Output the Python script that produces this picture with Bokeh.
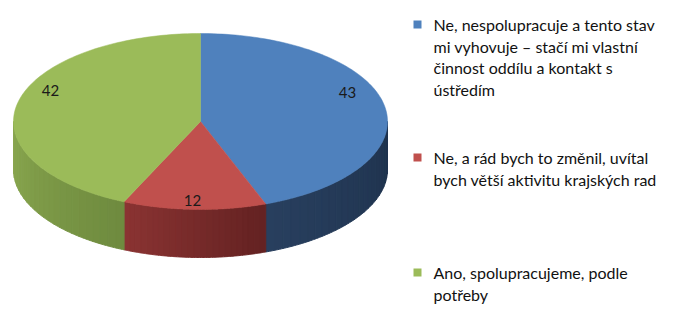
import numpy as np
from bokeh.plotting import figure
from bokeh.models import Range1d
from bokeh.core.properties import value
from bokeh.embed import file_html
from bokeh.resources import INLINE

# ---- data ----
categories = [
    "Ne, nespolupracuje a tento stav mi vyhovuje – stačí mi vlastní činnost oddílu a kontakt s ústředím",
    "Ne, a rád bych to změnil, uvítal bych větší aktivitu krajských rad",
    "Ano, spolupracujeme, podle potřeby",
]
legend_lines = [
    ["Ne, nespolupracuje a tento stav", "mi vyhovuje – stačí mi vlastní", "činnost oddílu a kontakt s", "ústředím"],
    ["Ne, a rád bych to změnil, uvítal", "bych větší aktivitu krajských rad"],
    ["Ano, spolupracujeme, podle", "potřeby"],
]
values = [43, 12, 42]
top_colors = ["#4F81BD", "#C0504D", "#9BBB59"]
side_colors = [("#283f5e", "#1e324d"), ("#8a3332", "#642222"), ("#8aa84f", "#6f8b3f")]

# ---- geometry (screen pixels, y down) ----
W, H = 685, 314
p = figure(width=W, height=H, output_backend="svg", toolbar_location=None,
           x_range=Range1d(0, W), y_range=Range1d(H, 0),
           min_border=0, outline_line_color=None)
p.axis.visible = False
p.grid.visible = False
p.background_fill_color = "white"
p.border_fill_color = "white"

cx, cy, a, b, depth = 200, 121, 187, 88, 48


def pt(theta_deg):
    t = np.radians(theta_deg)
    return cx + a * np.cos(t), cy - b * np.sin(t)


def mix(c1, c2, f):
    c1 = [int(c1[i:i + 2], 16) for i in (1, 3, 5)]
    c2 = [int(c2[i:i + 2], 16) for i in (1, 3, 5)]
    c = [round(c1[i] + (c2[i] - c1[i]) * f) for i in range(3)]
    return "#%02x%02x%02x" % tuple(c)


total = sum(values)
angles = []
start = 90.0
for v in values:
    sweep = v / total * 360.0
    angles.append((start, start - sweep))  # clockwise
    start -= sweep

# sides (front half: theta in [-180, 0])
for (s, e), (c1, c2) in zip(angles, side_colors):
    lo, hi = e, s
    segs = []
    for off in (0, -360, 360):
        l, h = lo + off, hi + off
        l2, h2 = max(l, -180), min(h, 0)
        if h2 > l2:
            segs.append((l2, h2))
    for l2, h2 in segs:
        n = 24
        edges = np.linspace(l2, h2, n + 1)
        xs_all, ys_all, cols = [], [], []
        for i in range(n):
            ts = np.linspace(edges[i], edges[i + 1], 6)
            top = [pt(t) for t in ts]
            xs = [q[0] for q in top] + [q[0] for q in top[::-1]]
            ys = [q[1] for q in top] + [q[1] + depth for q in top[::-1]]
            xs_all.append(xs)
            ys_all.append(ys)
            f = i / (n - 1)
            cols.append(mix(c1, c2, f))
        p.patches(xs_all, ys_all, fill_color=cols, line_color=cols, line_width=1)

# tops
for (s, e), col in zip(angles, top_colors):
    ts = np.linspace(s, e, 120)
    arc = [pt(t) for t in ts]
    xs = [cx] + [q[0] for q in arc]
    ys = [cy] + [q[1] for q in arc]
    p.patch(xs, ys, fill_color=col, line_color=col, line_width=0.5)

# data labels
label_pos = [(347, 92), (192, 200), (50, 90)]
for v, (lx, ly) in zip(values, label_pos):
    p.text([lx], [ly], text=[str(v)], text_font=value("Lato"), text_font_size="15px",
           text_color="#1a1a1a", text_align="center", text_baseline="middle")

# legend
block_y = [24, 157, 272]
line_h = 21.7
for lines, col, y0 in zip(legend_lines, top_colors, block_y):
    p.rect([417], [y0], width=8, height=8, fill_color=col, line_color=None)
    ys = [y0 + i * line_h for i in range(len(lines))]
    p.text([433] * len(lines), ys, text=lines, text_font=value("Lato"),
           text_font_size="16px", text_color="#111111", text_align="left",
           text_baseline="middle")

open("out.html", "w").write(file_html(p, INLINE))
